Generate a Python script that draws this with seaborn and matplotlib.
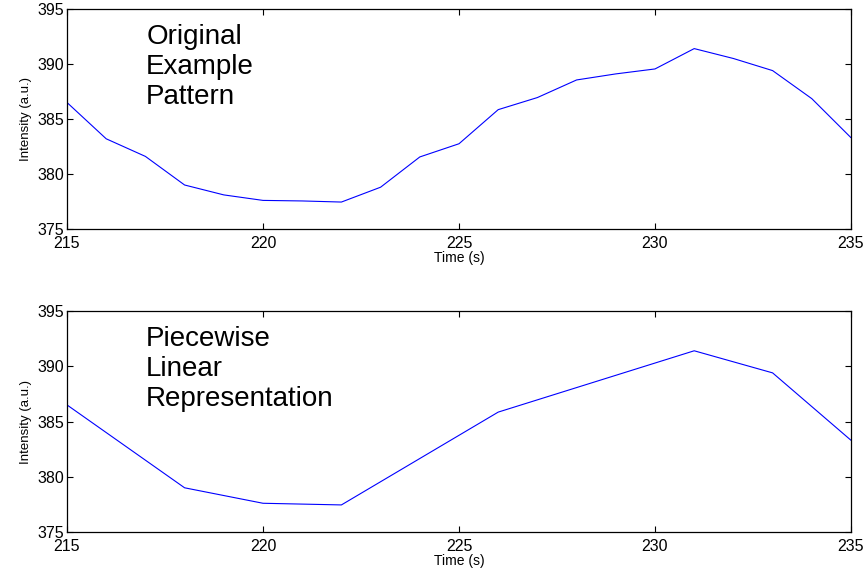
import pandas as pd
import matplotlib
matplotlib.use("Agg")
import matplotlib.pyplot as plt
import seaborn as sns

# Original sampled pattern
time_orig = [215, 216, 217, 218, 219, 220, 221, 222, 223, 224, 225,
             226, 227, 228, 229, 230, 231, 232, 233, 234, 235]
intensity_orig = [386.5, 383.2, 381.6, 379.0, 378.1, 377.6, 377.55, 377.45, 378.8,
                  381.55, 382.75, 385.85, 386.95, 388.55, 389.1, 389.55, 391.4,
                  390.5, 389.4, 386.85, 383.3]

# Piecewise linear segmentation endpoints
time_pla = [215, 218, 220, 222, 226, 231, 233, 235]
intensity_pla = [386.5, 379.0, 377.6, 377.45, 385.85, 391.4, 389.4, 383.3]

sns.set_style("ticks")
plt.rcParams["font.family"] = ["Liberation Sans", "DejaVu Sans"]
plt.rcParams["xtick.direction"] = "in"
plt.rcParams["ytick.direction"] = "in"
plt.rcParams["text.color"] = "black"
plt.rcParams["axes.labelcolor"] = "black"
plt.rcParams["xtick.labelcolor"] = "black"
plt.rcParams["ytick.labelcolor"] = "black"

df_orig = pd.DataFrame({"time": time_orig, "intensity": intensity_orig})
df_pla = pd.DataFrame({"time": time_pla, "intensity": intensity_pla})

fig = plt.figure(figsize=(8.67, 5.71), dpi=100)
W, H = 867, 571
ax_top = fig.add_axes([67 / W, 1 - 229 / H, 784 / W, 220 / H])
ax_bot = fig.add_axes([67 / W, 1 - 532 / H, 784 / W, 221 / H])


def style_panel(ax, df, label):
    sns.lineplot(data=df, x="time", y="intensity", ax=ax, color="#0000ff",
                 linewidth=0.8, sort=False)
    ax.set_xlim(215, 235)
    ax.set_ylim(375, 395)
    ax.set_xticks([215, 220, 225, 230, 235])
    ax.set_yticks([375, 380, 385, 390, 395])
    ax.tick_params(axis="both", labelsize=11.5, length=4, width=0.8,
                   top=True, right=True, color="black")
    ax.tick_params(axis="x", pad=5)
    ax.tick_params(axis="y", pad=2)
    for s in ax.spines.values():
        s.set_linewidth(0.9)
        s.set_color("black")
    ax.set_xlabel("Time (s)", fontsize=10, labelpad=0)
    ax.set_ylabel("Intensity (a.u.)", fontsize=9.5, labelpad=4)
    ax.text(0.101, 0.93, label, transform=ax.transAxes, fontsize=20,
            va="top", ha="left", linespacing=1.2)


style_panel(ax_top, df_orig, "Original\nExample\nPattern")
style_panel(ax_bot, df_pla, "Piecewise\nLinear\nRepresentation")

fig.savefig("out.png", dpi=100)
